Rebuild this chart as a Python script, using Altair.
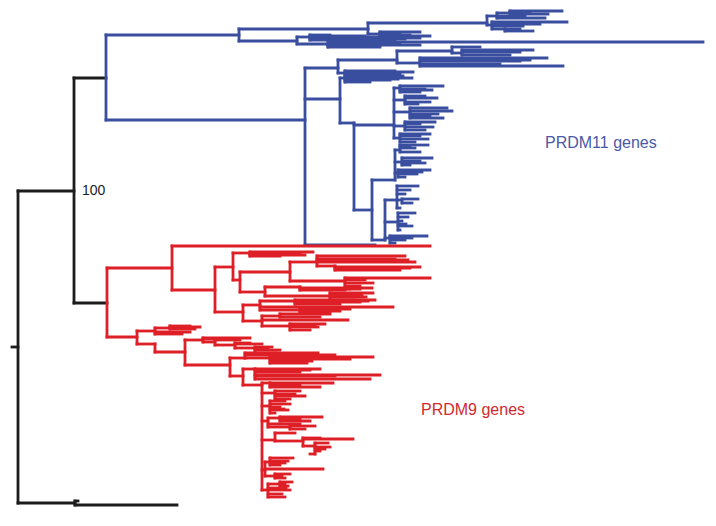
import altair as alt
import pandas as pd

# Tree.  internal node = (x, y, [children]); leaf = (tip_x, y)
# x = branch position (left to right), y = row position (top to bottom)

outgroup = (75, 503, [(78, 501), (177, 505)])

blue_top = (239, 35, [
    (368, 29, [
        (487, 23, [
            (497, 16, [(510, 13, [(562, 11), (548, 14), (530, 12)]), (545, 18), (525, 16)]),
            (492, 25, [(567, 22), (523, 26), (540, 24), (505, 29, [(533, 31), (520, 29)])]),
        ]),
        (380, 34, [(420, 32), (400, 33), (410, 35), (430, 36), (390, 34)]),
    ]),
    (297, 41, [
        (310, 37, [(365, 36), (420, 38), (395, 40), (330, 35), (380, 37), (405, 39)]),
        (328, 44, [(703, 42), (420, 45), (400, 44), (380, 47), (360, 46)]),
    ]),
])

blue_R = (394, 125, [
    (400, 88, [(443, 86), (425, 89), (420, 92), (432, 90)]),
    (405, 100, [(437, 98), (430, 102), (418, 104), (425, 96)]),
    (410, 112, [(447, 108), (452, 111), (438, 114), (443, 118), (430, 116)]),
    (405, 126, [(435, 122), (433, 127), (425, 130), (420, 124)]),
    (400, 138, [(430, 134), (428, 139), (415, 142), (420, 136)]),
])

blue_T = (395, 180, [
    (400, 150, [(428, 145), (415, 148), (420, 152), (410, 146)]),
    (402, 162, [(432, 158), (420, 161), (410, 165), (425, 163)]),
    (398, 173, [(430, 170), (417, 174), (405, 177), (422, 172)]),
])

blue_V = (385, 240, [
    (397, 200, [(418, 186), (410, 190), (405, 194), (402, 200, [(418, 199), (412, 203)]), (400, 208)]),
    (398, 222, [(415, 213), (408, 217), (402, 221), (412, 226), (400, 230), (406, 224)]),
    (390, 238, [(427, 236), (405, 240), (395, 243), (412, 238)]),
])

blue_low = (305, 120, [
    (338, 68, [
        (397, 60, [
            (452, 51, [(480, 47), (462, 53, [(533, 50), (510, 55), (520, 52)])]),
            (420, 63, [(547, 58), (520, 61), (500, 64), (563, 66), (530, 60)]),
        ]),
        (345, 73, [(413, 72), (400, 74), (395, 71)]),
    ]),
    (340, 99, [
        (345, 78, [(403, 76), (412, 78), (390, 80), (370, 82), (398, 79), (380, 77)]),
        (354, 123, [blue_R, (372, 210, [blue_T, blue_V])]),
    ]),
    (375, 245),
])

red_top = (172, 268, [
    (430, 246),
    (215, 290, [
        (233, 267, [
            (250, 253, [(313, 252), (300, 254), (280, 256), (295, 253), (305, 255)]),
            (240, 280, [
                (290, 272, [
                    (317, 262, [(405, 256), (395, 259), (415, 262), (408, 260),
                                (335, 266, [(420, 267), (400, 270), (410, 268)])]),
                    (345, 281, [(430, 278), (373, 283), (360, 286), (350, 289), (365, 280)]),
                ]),
                (265, 292, [(300, 287, [(372, 288), (345, 290), (360, 289)]),
                            (330, 296, [(373, 293), (366, 297), (355, 300), (362, 295)])]),
            ]),
        ]),
        (243, 312, [
            (260, 305, [(295, 301, [(375, 300), (360, 302), (340, 304), (368, 301)]), (393, 307),
                        (300, 310, [(350, 309), (330, 312), (340, 311)])]),
            (262, 321, [(280, 316, [(330, 314), (320, 317)]), (348, 320),
                        (290, 326, [(325, 324), (318, 327), (310, 330), (315, 325)])]),
        ]),
    ]),
])

red_comb = (243, 376, [
    (255, 369, [(320, 369), (300, 372), (380, 375), (370, 379), (310, 370), (335, 376)]),
    (262, 385, [
        (270, 383, [(333, 383), (320, 387), (300, 385)]),
        (275, 393, [(300, 391), (305, 396), (290, 399), (295, 394)]),
        (270, 406, [(285, 401), (290, 404), (280, 407), (288, 410), (275, 413), (284, 409)]),
        (268, 421, [(280, 418, [(322, 417), (310, 421), (300, 419)]), (300, 424),
                    (290, 427, [(315, 426), (305, 429)])]),
        (275, 440, [(295, 433), (303, 441, [(353, 439), (320, 438),
                    (315, 446, [(328, 443), (330, 447), (320, 451), (310, 454), (325, 449)])])]),
        (265, 470, [(270, 462, [(293, 458), (288, 461), (280, 465), (285, 463)]), (323, 469),
                    (275, 476, [(290, 474), (285, 478), (282, 476)])]),
        (268, 490, [(280, 484, [(292, 482), (288, 486), (285, 484)]), (290, 490), (282, 494), (285, 497),
                    (286, 488)]),
    ]),
])

red_low = (137, 337, [
    (155, 331, [(170, 328, [(200, 327), (195, 329), (190, 326)]), (190, 332), (182, 334)]),
    (155, 344, [
        (185, 352, [
            (203, 340, [(250, 338), (230, 339), (215, 342, [(240, 340), (235, 345, [(262, 344), (250, 343),
                        (255, 348, [(272, 347), (280, 350), (277, 353), (268, 349)])])])]),
            (230, 365, [
                (245, 358, [(318, 353), (300, 355),
                            (270, 358, [(373, 357), (335, 355), (312, 361), (307, 363), (350, 359)])]),
                red_comb,
            ]),
        ]),
    ]),
])

clade_colors = {"blue": "#3a4ea0", "red": "#de1f26", "black": "#1c1c1c"}
root_stem_x = [12, 18]
root_y = 347

labels_text = ["PRDM11 genes", "PRDM9 genes", "100"]
labels_x = [545, 421, 82]
labels_y = [143, 410, 191]
labels_color = ["#4a5aa6", "#d02a2f", "#1c1c1c"]
labels_size = [16, 16, 14]

# ---- assemble tree ----
blue_root = (106, 78, [blue_top, blue_low])
red_root = (107, 303, [red_top, red_low])
node_A = (74, 191, [blue_root, red_root])
root = (18, root_y, [node_A, outgroup])

color_of = {id(blue_root): "blue", id(red_root): "red"}

segs = []


def walk(node, clade):
    x, y, kids = node
    clade = color_of.get(id(node), clade)
    ys = [k[1] for k in kids] + [y]
    segs.append(dict(x=x, x2=x, y=min(ys), y2=max(ys), clade=clade))
    for k in kids:
        segs.append(dict(x=x, x2=k[0], y=k[1], y2=k[1], clade=clade))
        if len(k) == 3:
            walk(k, clade)


segs.append(dict(x=root_stem_x[0], x2=root_stem_x[1], y=root_y, y2=root_y, clade="black"))
walk(root, "black")
df = pd.DataFrame(segs)

xs = alt.Scale(domain=[8, 708], nice=False, zero=False)
ys = alt.Scale(domain=[8, 518], nice=False, zero=False, reverse=True)

tree = alt.Chart(df).mark_rule(strokeWidth=2.8, strokeCap="square").encode(
    x=alt.X("x:Q", scale=xs, axis=None),
    x2="x2:Q",
    y=alt.Y("y:Q", scale=ys, axis=None),
    y2="y2:Q",
    color=alt.Color("clade:N", scale=alt.Scale(domain=list(clade_colors.keys()),
                                               range=list(clade_colors.values())), legend=None),
)

lab = pd.DataFrame(dict(text=labels_text, x=labels_x, y=labels_y, c=labels_color, s=labels_size))
text = alt.Chart(lab).mark_text(align="left", baseline="middle", font="Liberation Sans").encode(
    x=alt.X("x:Q", scale=xs, axis=None),
    y=alt.Y("y:Q", scale=ys, axis=None),
    text="text:N",
    color=alt.Color("c:N", scale=None),
    size=alt.Size("s:Q", scale=None),
)

chart = alt.layer(tree, text).properties(
    width=700, height=510, padding=0,
    autosize=alt.AutoSizeParams(type="fit", contains="padding"),
).configure_view(stroke=None)

chart.save("out.html", embed_options={"renderer": "svg", "actions": False})
